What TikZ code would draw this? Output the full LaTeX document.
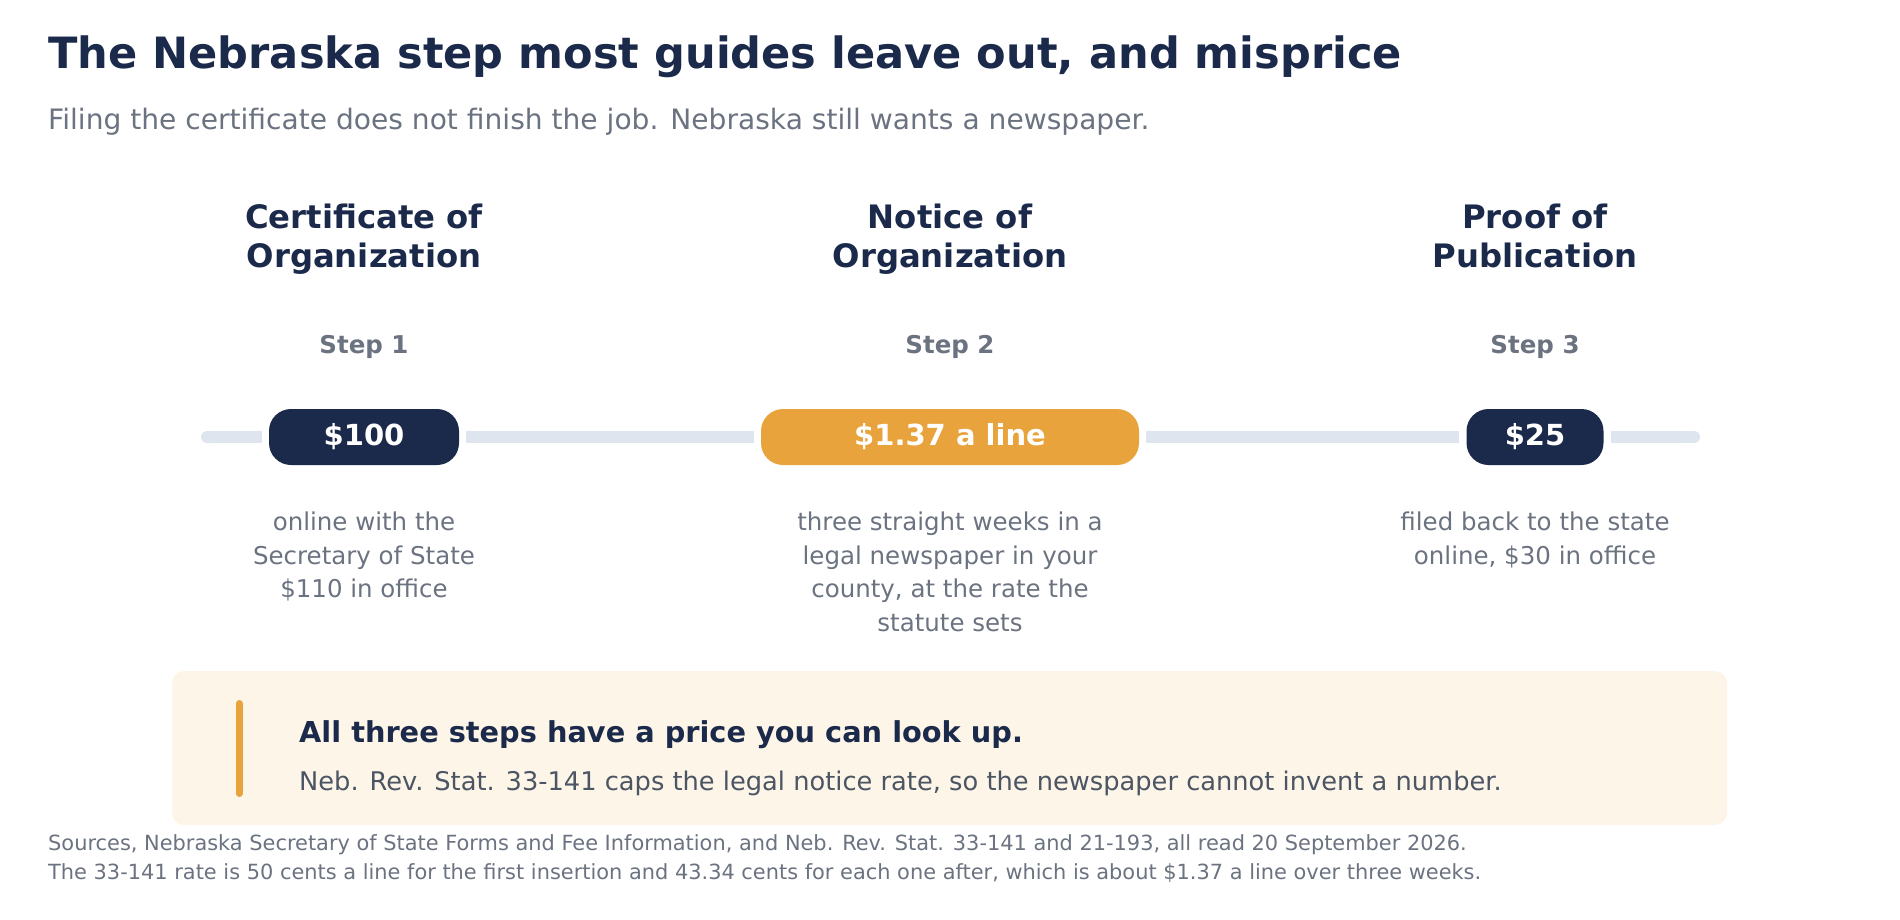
\documentclass[tikz,border=0pt]{standalone}
\usepackage{fontspec}
\setmainfont{DejaVu Sans}
\usetikzlibrary{arrows.meta}
\definecolor{navy}{HTML}{1B2A4A}
\definecolor{slate}{HTML}{6B7280}
\definecolor{amber}{HTML}{E8A33D}
\definecolor{railgrey}{HTML}{DFE5EE}
\definecolor{cream}{HTML}{FDF5E8}
\definecolor{notegrey}{HTML}{4B5563}

\begin{document}
\begin{tikzpicture}[x=1pt, y=-1pt,
        pill/.style={rounded corners=22pt, minimum height=56pt, inner sep=0pt, text=white,
            font=\fontsize{29}{35}\selectfont\bfseries},
        rail/.style={draw=railgrey, line width=12pt, line cap=butt},
        plain/.style={inner sep=0pt, anchor=base west}]
    \useasboundingbox (0,0) rectangle (1900,919);

    \node[plain, text=navy, font=\fontsize{43.1}{50}\selectfont\bfseries] (title) at (48,68)
        {The Nebraska step most guides leave out, and misprice};
    \node[plain, text=slate, font=\fontsize{28.1}{33}\selectfont] (subtitle) at (48,129)
        {Filing the certificate does not finish the job. Nebraska still wants a newspaper.};

    \foreach \i/\x/\h/\d in {
            1/364/{Certificate of\\Organization}/{online with the\\Secretary of State\\\$110 in office},
            2/950/{Notice of\\Organization}/{three straight weeks in a\\legal newspaper in your\\county, at the rate the\\statute sets},
            3/1535/{Proof of\\Publication}/{filed back to the state\\online, \$30 in office}} {
        \node (h\i) at (\x,204) [anchor=north, inner sep=0pt, align=center, text=navy,
            font=\fontsize{32.3}{39}\selectfont\bfseries] {\h};
        \node (s\i) at (\x,347) [text=slate, font=\fontsize{24.5}{29}\selectfont\bfseries] {Step \i};
        \node (d\i) at (\x,512) [anchor=north, inner sep=0pt, align=center, text=slate,
            font=\fontsize{24.5}{33.5}\selectfont] {\d};
    }

    \node[pill, fill=navy, minimum width=190pt] (p1) at (364,437) {\$100};
    \node[pill, fill=amber, minimum width=378pt] (p2) at (950,437) {\$1.37 a line};
    \node[pill, fill=navy, minimum width=137pt] (p3) at (1535,437) {\$25};

    \coordinate (r0) at (201,437);
    \coordinate (r4) at (1700,437);
    \draw[rail, {Round Cap[]}-] (r0) -- ([xshift=-7pt]p1.west);
    \draw[rail] ([xshift=7pt]p1.east) -- ([xshift=-7pt]p2.west);
    \draw[rail] ([xshift=7pt]p2.east) -- ([xshift=-7pt]p3.west);
    \draw[rail, -{Round Cap[]}] ([xshift=7pt]p3.east) -- (r4);

    \node (note) at (949.5,748) [fill=cream, rounded corners=12pt, minimum width=1555pt, minimum height=154pt] {};
    \coordinate (b0) at (239,703.5);
    \coordinate (b1) at (239,793.5);
    \draw[amber, line width=7pt, line cap=round] (b0) -- (b1);
    \node[plain, text=navy, font=\fontsize{28.8}{34}\selectfont\bfseries] (notehead) at (299,742)
        {All three steps have a price you can look up.};
    \node[plain, text=notegrey, font=\fontsize{25.7}{32}\selectfont] (notebody) at (299,790)
        {Neb. Rev. Stat. 33-141 caps the legal notice rate, so the newspaper cannot invent a number.};

    \node[plain, text=slate, font=\fontsize{20.9}{25}\selectfont] (src1) at (48,850)
        {Sources, Nebraska Secretary of State Forms and Fee Information, and Neb. Rev. Stat. 33-141 and 21-193, all read 20 September 2026.};
    \node[plain, text=slate, font=\fontsize{20.9}{25}\selectfont] (src2) at (48,879)
        {The 33-141 rate is 50 cents a line for the first insertion and 43.34 cents for each one after, which is about \$1.37 a line over three weeks.};
\end{tikzpicture}
\end{document}
